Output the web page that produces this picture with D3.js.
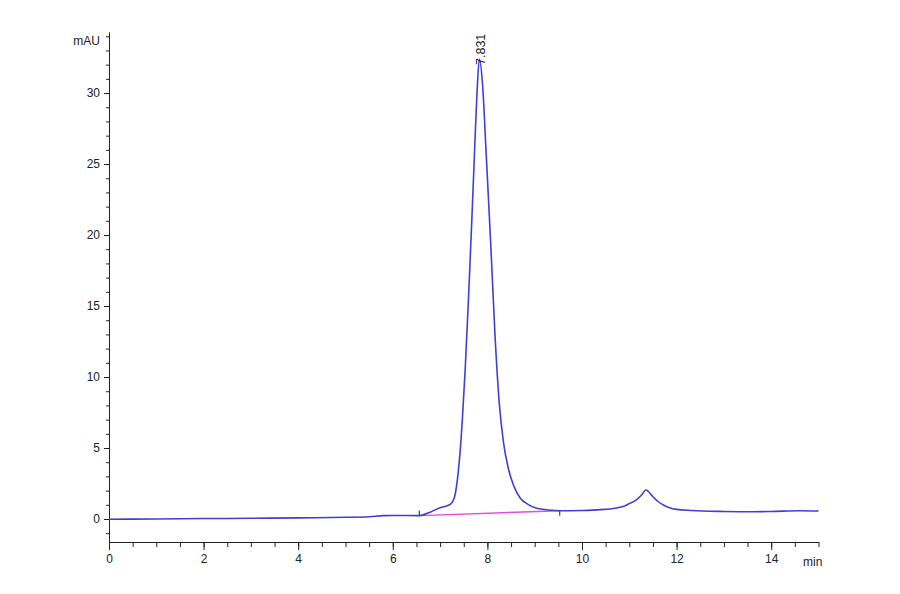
<!DOCTYPE html>
<html lang="en">
<head>
    <meta charset="utf-8">
    <title>Chromatogram</title>
    <style>
        body { margin: 0; background: #fff; }
        .chart text { font-family: "Liberation Sans", Arial, sans-serif; font-size: 12px; fill: #222; }
        .chart .axis path, .chart .axis line { stroke: #222; stroke-width: 1; }
        .chart .trace { fill: none; stroke: #3f3fd6; stroke-width: 1.6; }
        .chart .base { fill: none; stroke: #e04ee0; stroke-width: 1.4; }
    </style>
</head>
<body>
<div id="chart"></div>

<script src="https://d3js.org/d3.v7.min.js"></script>
<script>
    // retention time (min) and signal (mAU)
    var time = [0, 1, 2, 3, 4, 5, 5.5, 5.8, 6.0, 6.56, 6.8, 7.0, 7.2, 7.3, 7.37, 7.42, 7.47, 7.53,
        7.6, 7.67, 7.73, 7.78, 7.83, 7.9, 7.97, 8.07, 8.16, 8.25, 8.34, 8.44, 8.55, 8.7, 8.85, 9.04, 9.3,
        9.53, 10.0, 10.4, 10.7, 10.9, 11.01, 11.15, 11.26, 11.35, 11.5, 11.6, 11.72, 11.85, 12.0,
        12.3, 12.56, 13.0, 13.55, 14.0, 14.6, 15.0];
    var signal = [-0.02, 0.0, 0.03, 0.05, 0.08, 0.12, 0.16, 0.24, 0.25, 0.24, 0.5, 0.8, 1.0, 1.5, 2.9,
        4.6, 7.0, 10.5, 15.5, 21.0, 26.0, 30.0, 32.4, 30.5, 26.0, 19.4, 13.0, 8.2, 5.4, 3.6, 2.4, 1.45, 1.05,
        0.75, 0.63, 0.58, 0.6, 0.66, 0.76, 0.92, 1.1, 1.35, 1.69, 2.04, 1.57, 1.25, 0.99, 0.8, 0.68,
        0.6, 0.56, 0.53, 0.51, 0.53, 0.58, 0.56];

    // integration baseline of the main peak
    var baseTime = [6.56, 9.53];
    var baseSignal = [0.24, 0.58];

    var peakTime = 7.831;
    var peakSignal = 32.4;
    var peakLabel = "7.831";

    var xMajor = [0, 2, 4, 6, 8, 10, 12, 14];
    var yMajor = [0, 5, 10, 15, 20, 25, 30];

    var width = 900, height = 594;

    var svg = d3.select("#chart").append("svg")
        .attr("class", "chart")
        .attr("width", width)
        .attr("height", height);

    var x = d3.scaleLinear().domain([0, 15]).range([109, 818.5]);
    var y = d3.scaleLinear().domain([-1.62, 34.3]).range([542, 32]);

    var xMinor = d3.range(0, 15.01, 0.5);
    var yMinor = d3.range(-1, 34.5, 1);

    // minor ticks first, then major ticks with labels
    svg.append("g").attr("class", "axis")
        .attr("transform", "translate(0," + y.range()[0] + ")")
        .call(d3.axisBottom(x).tickValues(xMinor).tickSize(5).tickFormat("").tickSizeOuter(0));
    svg.append("g").attr("class", "axis x")
        .attr("transform", "translate(0," + y.range()[0] + ")")
        .call(d3.axisBottom(x).tickValues(xMajor).tickSize(8).tickPadding(4).tickFormat(d3.format("d")).tickSizeOuter(0));

    svg.append("g").attr("class", "axis")
        .attr("transform", "translate(" + x.range()[0] + ",0)")
        .call(d3.axisLeft(y).tickValues(yMinor).tickSize(3).tickFormat("").tickSizeOuter(0));
    svg.append("g").attr("class", "axis y")
        .attr("transform", "translate(" + x.range()[0] + ",0)")
        .call(d3.axisLeft(y).tickValues(yMajor).tickSize(5).tickPadding(4).tickFormat(d3.format("d")).tickSizeOuter(0));

    svg.selectAll(".axis text").attr("font-family", null).attr("font-size", null);

    svg.append("text").attr("x", 100).attr("y", 45).attr("text-anchor", "end").text("mAU");
    svg.append("text").attr("x", 803).attr("y", 566).text("min");

    // baseline of the integrated peak
    var baseData = d3.zip(baseTime, baseSignal);
    svg.append("path").attr("class", "base")
        .attr("d", d3.line().x(function (d) { return x(d[0]); }).y(function (d) { return y(d[1]); })(baseData));

    // integration markers
    svg.append("line").attr("x1", x(baseTime[0])).attr("x2", x(baseTime[0]))
        .attr("y1", y(baseSignal[0]) - 5).attr("y2", y(baseSignal[0])).attr("stroke", "#222");
    svg.append("line").attr("x1", x(baseTime[1])).attr("x2", x(baseTime[1]))
        .attr("y1", y(baseSignal[1])).attr("y2", y(baseSignal[1]) + 5).attr("stroke", "#222");

    // the trace
    var data = d3.zip(time, signal);
    svg.append("path").attr("class", "trace")
        .attr("d", d3.line().curve(d3.curveMonotoneX)
            .x(function (d) { return x(d[0]); })
            .y(function (d) { return y(d[1]); })(data));

    // peak label, rotated
    svg.append("text")
        .attr("transform", "translate(" + (x(peakTime) + 5.5) + "," + (y(peakSignal) + 6) + ") rotate(-90)")
        .style("font-size", "12.5px")
        .text(peakLabel);
</script>
</body>
</html>
